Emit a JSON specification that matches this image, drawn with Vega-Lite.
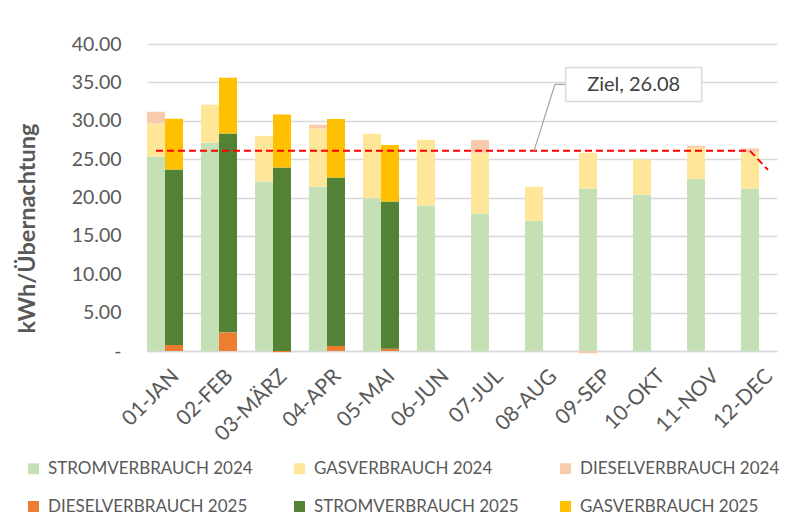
{
  "$schema": "https://vega.github.io/schema/vega-lite/v6.json",
  "width": 630,
  "height": 307,
  "autosize": {"type": "none"},
  "padding": {"left": 147, "top": 44, "right": 26, "bottom": 168},
  "background": "white",
  "config": {"font": "Lato", "view": {"stroke": null}},
  "layer": [
    {
      "layer": [
        {
          "data": {
            "values": [
              {"month": "01-JAN", "year": "2024", "series": "STROMVERBRAUCH 2024", "value": 25.34},
              {"month": "01-JAN", "year": "2024", "series": "GASVERBRAUCH 2024", "value": 4.31},
              {"month": "01-JAN", "year": "2024", "series": "DIESELVERBRAUCH 2024", "value": 1.52},
              {"month": "02-FEB", "year": "2024", "series": "STROMVERBRAUCH 2024", "value": 27.13},
              {"month": "02-FEB", "year": "2024", "series": "GASVERBRAUCH 2024", "value": 4.96},
              {"month": "02-FEB", "year": "2024", "series": "DIESELVERBRAUCH 2024", "value": 0},
              {"month": "03-MÄRZ", "year": "2024", "series": "STROMVERBRAUCH 2024", "value": 22.09},
              {"month": "03-MÄRZ", "year": "2024", "series": "GASVERBRAUCH 2024", "value": 5.95},
              {"month": "03-MÄRZ", "year": "2024", "series": "DIESELVERBRAUCH 2024", "value": 0},
              {"month": "04-APR", "year": "2024", "series": "STROMVERBRAUCH 2024", "value": 21.43},
              {"month": "04-APR", "year": "2024", "series": "GASVERBRAUCH 2024", "value": 7.57},
              {"month": "04-APR", "year": "2024", "series": "DIESELVERBRAUCH 2024", "value": 0.48},
              {"month": "05-MAI", "year": "2024", "series": "STROMVERBRAUCH 2024", "value": 19.91},
              {"month": "05-MAI", "year": "2024", "series": "GASVERBRAUCH 2024", "value": 8.39},
              {"month": "05-MAI", "year": "2024", "series": "DIESELVERBRAUCH 2024", "value": 0},
              {"month": "06-JUN", "year": "2024", "series": "STROMVERBRAUCH 2024", "value": 18.96},
              {"month": "06-JUN", "year": "2024", "series": "GASVERBRAUCH 2024", "value": 8.56},
              {"month": "06-JUN", "year": "2024", "series": "DIESELVERBRAUCH 2024", "value": 0},
              {"month": "07-JUL", "year": "2024", "series": "STROMVERBRAUCH 2024", "value": 17.91},
              {"month": "07-JUL", "year": "2024", "series": "GASVERBRAUCH 2024", "value": 7.92},
              {"month": "07-JUL", "year": "2024", "series": "DIESELVERBRAUCH 2024", "value": 1.65},
              {"month": "08-AUG", "year": "2024", "series": "STROMVERBRAUCH 2024", "value": 16.96},
              {"month": "08-AUG", "year": "2024", "series": "GASVERBRAUCH 2024", "value": 4.43},
              {"month": "08-AUG", "year": "2024", "series": "DIESELVERBRAUCH 2024", "value": 0},
              {"month": "09-SEP", "year": "2024", "series": "STROMVERBRAUCH 2024", "value": 21.17},
              {"month": "09-SEP", "year": "2024", "series": "GASVERBRAUCH 2024", "value": 4.66},
              {"month": "09-SEP", "year": "2024", "series": "DIESELVERBRAUCH 2024", "value": -0.3},
              {"month": "10-OKT", "year": "2024", "series": "STROMVERBRAUCH 2024", "value": 20.39},
              {"month": "10-OKT", "year": "2024", "series": "GASVERBRAUCH 2024", "value": 4.57},
              {"month": "10-OKT", "year": "2024", "series": "DIESELVERBRAUCH 2024", "value": 0},
              {"month": "11-NOV", "year": "2024", "series": "STROMVERBRAUCH 2024", "value": 22.43},
              {"month": "11-NOV", "year": "2024", "series": "GASVERBRAUCH 2024", "value": 4.05},
              {"month": "11-NOV", "year": "2024", "series": "DIESELVERBRAUCH 2024", "value": 0.26},
              {"month": "12-DEC", "year": "2024", "series": "STROMVERBRAUCH 2024", "value": 21.17},
              {"month": "12-DEC", "year": "2024", "series": "GASVERBRAUCH 2024", "value": 4.7},
              {"month": "12-DEC", "year": "2024", "series": "DIESELVERBRAUCH 2024", "value": 0.52},
              {"month": "01-JAN", "year": "2025", "series": "DIESELVERBRAUCH 2025", "value": 0.78},
              {"month": "01-JAN", "year": "2025", "series": "STROMVERBRAUCH 2025", "value": 22.87},
              {"month": "01-JAN", "year": "2025", "series": "GASVERBRAUCH 2025", "value": 6.61},
              {"month": "02-FEB", "year": "2025", "series": "DIESELVERBRAUCH 2025", "value": 2.43},
              {"month": "02-FEB", "year": "2025", "series": "STROMVERBRAUCH 2025", "value": 25.92},
              {"month": "02-FEB", "year": "2025", "series": "GASVERBRAUCH 2025", "value": 7.26},
              {"month": "03-MÄRZ", "year": "2025", "series": "DIESELVERBRAUCH 2025", "value": -0.15},
              {"month": "03-MÄRZ", "year": "2025", "series": "STROMVERBRAUCH 2025", "value": 23.91},
              {"month": "03-MÄRZ", "year": "2025", "series": "GASVERBRAUCH 2025", "value": 6.91},
              {"month": "04-APR", "year": "2025", "series": "DIESELVERBRAUCH 2025", "value": 0.65},
              {"month": "04-APR", "year": "2025", "series": "STROMVERBRAUCH 2025", "value": 21.96},
              {"month": "04-APR", "year": "2025", "series": "GASVERBRAUCH 2025", "value": 7.61},
              {"month": "05-MAI", "year": "2025", "series": "DIESELVERBRAUCH 2025", "value": 0.3},
              {"month": "05-MAI", "year": "2025", "series": "STROMVERBRAUCH 2025", "value": 19.18},
              {"month": "05-MAI", "year": "2025", "series": "GASVERBRAUCH 2025", "value": 7.35}
            ]
          },
          "transform": [
            {"calculate": "indexof(['STROMVERBRAUCH 2024','GASVERBRAUCH 2024','DIESELVERBRAUCH 2024','DIESELVERBRAUCH 2025','STROMVERBRAUCH 2025','GASVERBRAUCH 2025'], datum.series)", "as": "ord"}
          ],
          "mark": {"type": "bar"},
          "encoding": {
            "x": {
              "field": "month", "type": "nominal", "sort": null,
              "scale": {"paddingInner": 0.3333, "paddingOuter": 0},
              "axis": {"title": null, "labelAngle": -45, "labelFontSize": 21, "labelColor": "#595959", "ticks": false, "domainColor": "#D9D9D9", "domainWidth": 1.3, "labelPadding": 14, "labelOffset": 3}
            },
            "xOffset": {"field": "year", "type": "nominal", "scale": {"paddingInner": 0, "paddingOuter": 0}},
            "y": {
              "field": "value", "type": "quantitative", "stack": "zero",
              "scale": {"domain": [0, 40], "nice": false, "zero": true},
              "axis": {
                "title": "kWh/Übernachtung", "titleFontSize": 23.5, "titleFontWeight": "bold", "titleColor": "#595959",
                "titleX": -113, "titleY": 184, "titleAngle": -90, "titleAlign": "center", "titleBaseline": "alphabetic",
                "labelFontSize": 19.5, "labelColor": "#595959", "labelPadding": 26, "ticks": false, "domain": false,
                "labelOverlap": false,
                "gridColor": "#D9D9D9", "gridWidth": 1.3,
                "values": [0, 5, 10, 15, 20, 25, 30, 35, 40],
                "labelExpr": "datum.value == 0 ? '-\u2003\u2003' : format(datum.value, '.2f')"
              }
            },
            "color": {
              "field": "series", "type": "nominal",
              "scale": {
                "domain": ["STROMVERBRAUCH 2024", "GASVERBRAUCH 2024", "DIESELVERBRAUCH 2024", "DIESELVERBRAUCH 2025", "STROMVERBRAUCH 2025", "GASVERBRAUCH 2025"],
                "range": ["#C5E0B4", "#FFE699", "#F8CBAD", "#ED7D31", "#548235", "#FFC000"]
              },
              "legend": {
                "orient": "none", "legendX": -122, "legendY": 416, "direction": "horizontal", "columns": 3,
                "title": null, "symbolType": "square", "symbolSize": 120, "symbolStrokeWidth": 0,
                "labelFontSize": 17, "labelColor": "#595959", "labelLimit": 400, "gridAlign": "all",
                "columnPadding": 38, "rowPadding": 20, "symbolOffset": 0, "labelOffset": 6
              }
            },
            "order": {"field": "ord", "type": "quantitative"}
          }
        },
        {
          "data": {
            "values": [
              {"month": "01-JAN", "year": "2024", "value": 26.08},
              {"month": "02-FEB", "year": "2024", "value": 26.08},
              {"month": "03-MÄRZ", "year": "2024", "value": 26.08},
              {"month": "04-APR", "year": "2024", "value": 26.08},
              {"month": "05-MAI", "year": "2024", "value": 26.08},
              {"month": "06-JUN", "year": "2024", "value": 26.08},
              {"month": "07-JUL", "year": "2024", "value": 26.08},
              {"month": "08-AUG", "year": "2024", "value": 26.08},
              {"month": "09-SEP", "year": "2024", "value": 26.08},
              {"month": "10-OKT", "year": "2024", "value": 26.08},
              {"month": "11-NOV", "year": "2024", "value": 26.08},
              {"month": "12-DEC", "year": "2024", "value": 26.08},
              {"month": "12-DEC", "year": "2025", "value": 23.6}
            ]
          },
          "transform": [{"window": [{"op": "row_number", "as": "idx"}]}],
          "mark": {"type": "line", "color": "#FF0000", "strokeDash": [7, 4], "strokeWidth": 2},
          "encoding": {
            "x": {"field": "month", "type": "nominal", "sort": null},
            "xOffset": {"field": "year", "type": "nominal"},
            "y": {"field": "value", "type": "quantitative", "scale": {"domain": [0, 40], "nice": false}, "axis": null},
            "order": {"field": "idx", "type": "quantitative"}
          }
        }
      ],
      "resolve": {"axis": {"y": "independent"}}
    },
    {
      "layer": [
        {
          "data": {"values": [{"pos": 7.975, "value": 34.73, "idx": 1}, {"pos": 7.77, "value": 34.73, "idx": 2}, {"pos": 7.371, "value": 26.08, "idx": 3}]},
          "mark": {"type": "line", "color": "#A6A6A6", "strokeWidth": 1.2},
          "encoding": {
            "x": {"field": "pos", "type": "quantitative", "scale": {"domain": [0, 12], "nice": false, "zero": false}, "axis": null},
            "y": {"field": "value", "type": "quantitative", "scale": {"domain": [0, 40], "nice": false}, "axis": null},
            "order": {"field": "idx", "type": "quantitative"}
          }
        },
        {
          "data": {"values": [{"pos": 7.975, "pos2": 10.566, "value": 36.95, "value2": 32.52}]},
          "mark": {"type": "rect", "fill": "white", "stroke": "#D9D9D9", "strokeWidth": 1.5},
          "encoding": {
            "x": {"field": "pos", "type": "quantitative", "scale": {"domain": [0, 12], "nice": false, "zero": false}, "axis": null},
            "x2": {"field": "pos2"},
            "y": {"field": "value", "type": "quantitative", "scale": {"domain": [0, 40], "nice": false}, "axis": null},
            "y2": {"field": "value2"}
          }
        },
        {
          "data": {"values": [{"label": "Ziel, 26.08", "pos": 9.27, "value": 34.7}]},
          "mark": {"type": "text", "fontSize": 20, "color": "#404040", "align": "center", "baseline": "middle"},
          "encoding": {
            "x": {"field": "pos", "type": "quantitative", "scale": {"domain": [0, 12], "nice": false, "zero": false}, "axis": null},
            "y": {"field": "value", "type": "quantitative", "scale": {"domain": [0, 40], "nice": false}, "axis": null},
            "text": {"field": "label"}
          }
        }
      ],
      "resolve": {"axis": {"y": "independent"}}
    }
  ],
  "resolve": {"scale": {"x": "independent"}, "axis": {"x": "independent", "y": "independent"}}
}
